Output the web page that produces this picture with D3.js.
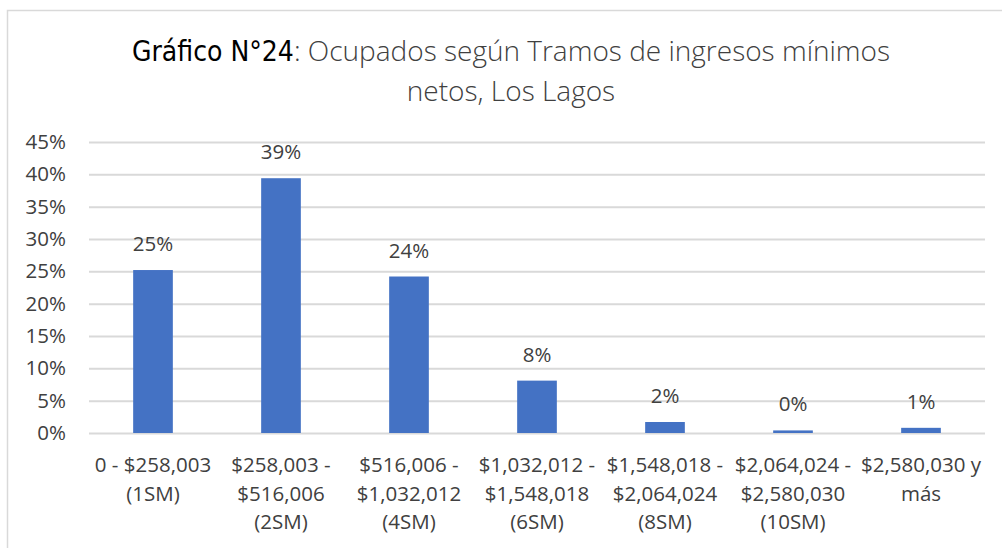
<!DOCTYPE html>
<html>
<head>
<meta charset="utf-8">
<script src="https://cdn.jsdelivr.net/npm/d3@7"></script>
<style>
  body { margin: 0; background: #fff; }
  text { font-family: "Open Sans", "Noto Sans", sans-serif; fill: #404040; }
</style>
</head>
<body>
<div id="chart"></div>
<script>
// categories (lines of each x label) and values
let categories = [
  ["0 - $258,003", "(1SM)"],
  ["$258,003 -", "$516,006", "(2SM)"],
  ["$516,006 -", "$1,032,012", "(4SM)"],
  ["$1,032,012 -", "$1,548,018", "(6SM)"],
  ["$1,548,018 -", "$2,064,024", "(8SM)"],
  ["$2,064,024 -", "$2,580,030", "(10SM)"],
  ["$2,580,030 y", "más"]
];
let values = [0.252, 0.394, 0.242, 0.081, 0.017, 0.004, 0.008];
let valueLabels = ["25%", "39%", "24%", "8%", "2%", "0%", "1%"];
let yTicks = [0, 0.05, 0.10, 0.15, 0.20, 0.25, 0.30, 0.35, 0.40, 0.45];

let width = 1002, height = 548;
let fontSize = "20.5px";

let svg = d3.select("#chart")
  .append("svg")
  .attr("width", width)
  .attr("height", height);

// chart border (only top and left show in the crop)
svg.append("rect")
  .attr("x", 7.5)
  .attr("y", 10.5)
  .attr("width", 1100)
  .attr("height", 600)
  .attr("fill", "none")
  .attr("stroke", "#d9d9d9")
  .attr("stroke-width", 1.5);

// title
let title = svg.append("text")
  .attr("x", 511)
  .attr("y", 61)
  .attr("text-anchor", "middle")
  .style("font-size", "28px");
title.append("tspan")
  .style("font-family", "'Liberation Sans Narrow', 'DejaVu Sans Condensed', sans-serif")
  .style("fill", "#000")
  .style("font-size", "28px")
  .text("Gráfico N°24");
title.append("tspan")
  .style("font-weight", 300)
  .text(": Ocupados según Tramos de ingresos mínimos");
svg.append("text")
  .attr("x", 511)
  .attr("y", 101)
  .attr("text-anchor", "middle")
  .style("font-size", "28px")
  .style("font-weight", 300)
  .text("netos, Los Lagos");

// scales
let x = d3.scaleBand()
  .domain(d3.range(categories.length))
  .range([89, 985])
  .paddingInner(0.69)
  .paddingOuter(0.345);

let y = d3.scaleLinear()
  .domain([0, 0.45])
  .range([433, 142]);

// Y axis with gridlines
let yAxis = svg.append("g")
  .attr("transform", "translate(89,0)")
  .call(d3.axisLeft(y).tickValues(yTicks).tickFormat(d3.format(".0%")).tickSize(-(985 - 89)).tickPadding(23));
yAxis.select(".domain").remove();
yAxis.selectAll(".tick line").attr("stroke", "#d9d9d9").attr("stroke-width", 2);
yAxis.selectAll(".tick text")
  .style("font-size", fontSize)
  .style("fill", "#404040")
  .attr("font-family", null);

// bars
svg.append("g")
  .selectAll("rect")
  .data(values)
  .enter()
  .append("rect")
    .attr("x", function(d, i) { return x(i); })
    .attr("y", function(d) { return y(d); })
    .attr("width", x.bandwidth())
    .attr("height", function(d) { return y(0) - y(d); })
    .attr("fill", "#4472c4");

// value labels
svg.append("g")
  .selectAll("text")
  .data(values)
  .enter()
  .append("text")
    .attr("x", function(d, i) { return x(i) + x.bandwidth() / 2; })
    .attr("y", function(d) { return y(d) - 19; })
    .attr("text-anchor", "middle")
    .style("font-size", fontSize)
    .text(function(d, i) { return valueLabels[i]; });

// X labels (multi-line)
let xl = svg.append("g")
  .selectAll("text")
  .data(categories)
  .enter()
  .append("text")
    .attr("text-anchor", "middle")
    .style("font-size", fontSize);
xl.each(function(lines, i) {
  let t = d3.select(this);
  lines.forEach(function(line, j) {
    t.append("tspan")
      .attr("x", x(i) + x.bandwidth() / 2)
      .attr("y", 472 + j * 28.5)
      .text(line);
  });
});
</script>
</body>
</html>
